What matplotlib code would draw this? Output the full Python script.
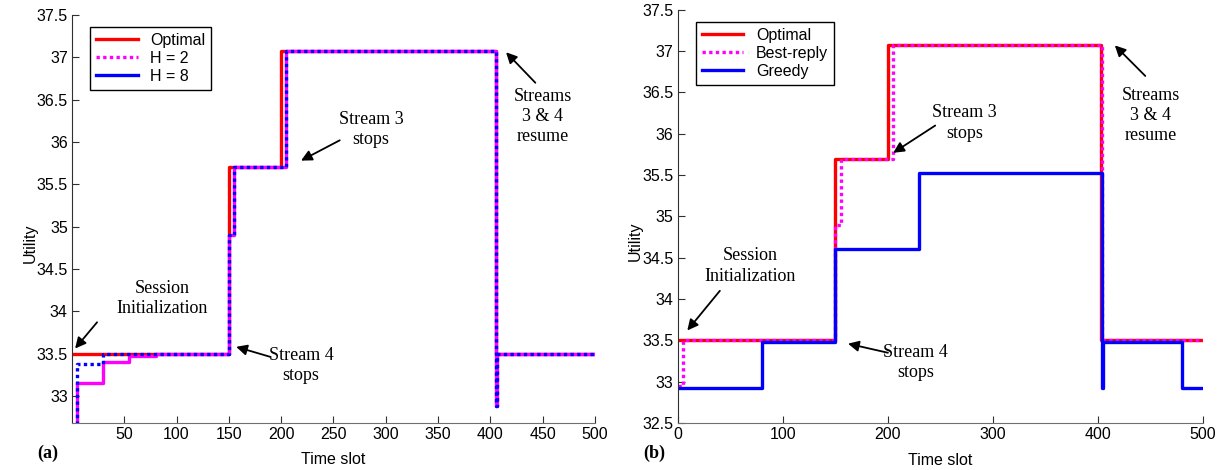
import matplotlib.pyplot as plt
from matplotlib.lines import Line2D
from matplotlib.ticker import FormatStrFormatter

# ---- data, panel (a) ----
t_opt_a = [0, 150, 200, 405, 500]
u_opt_a = [33.5, 35.7, 37.08, 33.5, 33.5]
t_h2 = [5, 5, 30, 55, 80, 150, 155, 205, 405, 406, 500]
u_h2 = [32.0, 33.15, 33.4, 33.47, 33.5, 34.9, 35.7, 37.08, 32.88, 33.5, 33.5]
t_h8 = [5, 5, 30, 150, 155, 205, 405, 406, 500]
u_h8 = [32.0, 33.38, 33.49, 34.9, 35.7, 37.08, 32.88, 33.5, 33.5]

# ---- data, panel (b) ----
t_opt_b = [0, 150, 200, 403, 500]
u_opt_b = [33.5, 35.7, 37.08, 33.5, 33.5]
t_best = [0, 5, 150, 155, 205, 404, 500]
u_best = [32.95, 33.5, 34.9, 35.7, 37.08, 33.5, 33.5]
t_greedy = [0, 80, 150, 230, 404, 405, 480, 500]
u_greedy = [32.92, 33.48, 34.6, 35.53, 32.92, 33.48, 32.92, 32.92]

xticks_a = [50, 100, 150, 200, 250, 300, 350, 400, 450, 500]
yticks_a = [33, 33.5, 34, 34.5, 35, 35.5, 36, 36.5, 37, 37.5]
xticks_b = [0, 100, 200, 300, 400, 500]
yticks_b = [32.5, 33, 33.5, 34, 34.5, 35, 35.5, 36, 36.5, 37, 37.5]

# annotations: (text, text pos, arrow tail, arrow head)
notes_a = [
    ("Session\nInitialization", (86, 34.15), (24, 33.87), (3, 33.56)),
    ("Stream 3\nstops", (286, 36.15), (256, 36.02), (219, 35.78)),
    ("Stream 4\nstops", (219, 33.36), (190, 33.46), (157, 33.58)),
    ("Streams\n3 & 4\nresume", (450, 36.3), (443, 36.7), (415, 37.06)),
]
notes_b = [
    ("Session\nInitialization", (69, 34.4), (40, 34.1), (9, 33.62)),
    ("Stream 3\nstops", (273, 36.13), (245, 36.1), (205, 35.77)),
    ("Stream 4\nstops", (226, 33.23), (200, 33.35), (162, 33.46)),
    ("Streams\n3 & 4\nresume", (450, 36.22), (445, 36.7), (416, 37.07)),
]

plt.rcParams['font.family'] = 'Liberation Sans'
fs = 11.5

fig = plt.figure(figsize=(12.28, 4.7), dpi=100)
ax1 = fig.add_axes([0.0586, 0.1, 0.4259, 0.868])
ax2 = fig.add_axes([0.552, 0.1, 0.4277, 0.879])

lw = 2.4
dots = (1, 1)

# panel (a)
ax1.plot(t_opt_a, u_opt_a, drawstyle='steps-post', color='red', lw=lw)
ax1.plot(t_h2, u_h2, drawstyle='steps-post', color='magenta', lw=lw)
ax1.plot(t_h8, u_h8, drawstyle='steps-post', color='blue', lw=lw,
         linestyle=(0, dots), dash_capstyle='butt')
ax1.set_xlim(0, 500)
ax1.set_ylim(32.68, 37.5)
ax1.set_xticks(xticks_a)
ax1.set_yticks(yticks_a)

# panel (b)
ax2.plot(t_opt_b, u_opt_b, drawstyle='steps-post', color='red', lw=lw)
ax2.plot(t_best, u_best, drawstyle='steps-post', color='magenta', lw=lw,
         linestyle=(0, dots), dash_capstyle='butt')
ax2.plot(t_greedy, u_greedy, drawstyle='steps-post', color='blue', lw=lw)
ax2.set_xlim(0, 500)
ax2.set_ylim(32.5, 37.5)
ax2.set_xticks(xticks_b)
ax2.set_yticks(yticks_b)

for ax, notes, ylx in [(ax1, notes_a, -0.065), (ax2, notes_b, -0.066)]:
    ax.spines['top'].set_visible(False)
    ax.spines['right'].set_visible(False)
    ax.spines['bottom'].set_color('#707070')
    ax.spines['left'].set_color('#303030')
    ax.tick_params(direction='in', length=5, labelsize=fs, colors='#303030',
                   labelcolor='black', pad=3)
    ax.yaxis.set_major_formatter(FormatStrFormatter('%g'))
    ax.set_xlabel('Time slot', fontsize=fs)
    ax.set_ylabel('Utility', fontsize=fs)
    ax.xaxis.set_label_coords(0.5, -0.072)
    ax.yaxis.set_label_coords(ylx, 0.44)
    for txt, pos, tail, head in notes:
        ax.text(pos[0], pos[1], txt, ha='center', va='center',
                family='Liberation Serif', fontsize=13, linespacing=1.25)
        ax.annotate('', xy=head, xytext=tail,
                    arrowprops=dict(arrowstyle='-|>', color='black', lw=1.3,
                                    mutation_scale=16, shrinkA=0, shrinkB=0))

handles = [Line2D([], [], color='red', lw=lw),
           Line2D([], [], color='magenta', lw=lw, linestyle=(0, dots)),
           Line2D([], [], color='blue', lw=lw)]
for ax, labels in [(ax1, ['Optimal', 'H = 2', 'H = 8']),
                   (ax2, ['Optimal', 'Best-reply', 'Greedy'])]:
    leg = ax.legend(handles, labels, loc='upper left',
                    bbox_to_anchor=(0.02, 0.99),
                    fancybox=False, framealpha=1, edgecolor='black',
                    fontsize=fs, handlelength=2.6, borderpad=0.35,
                    labelspacing=0.2, handletextpad=0.8)
    leg.get_frame().set_linewidth(1.0)

fig.text(0.039, 0.036, '(a)', family='Liberation Serif', fontweight='bold',
         fontsize=13, ha='center', va='center')
fig.text(0.533, 0.036, '(b)', family='Liberation Serif', fontweight='bold',
         fontsize=13, ha='center', va='center')

fig.savefig('out.png', dpi=100)
